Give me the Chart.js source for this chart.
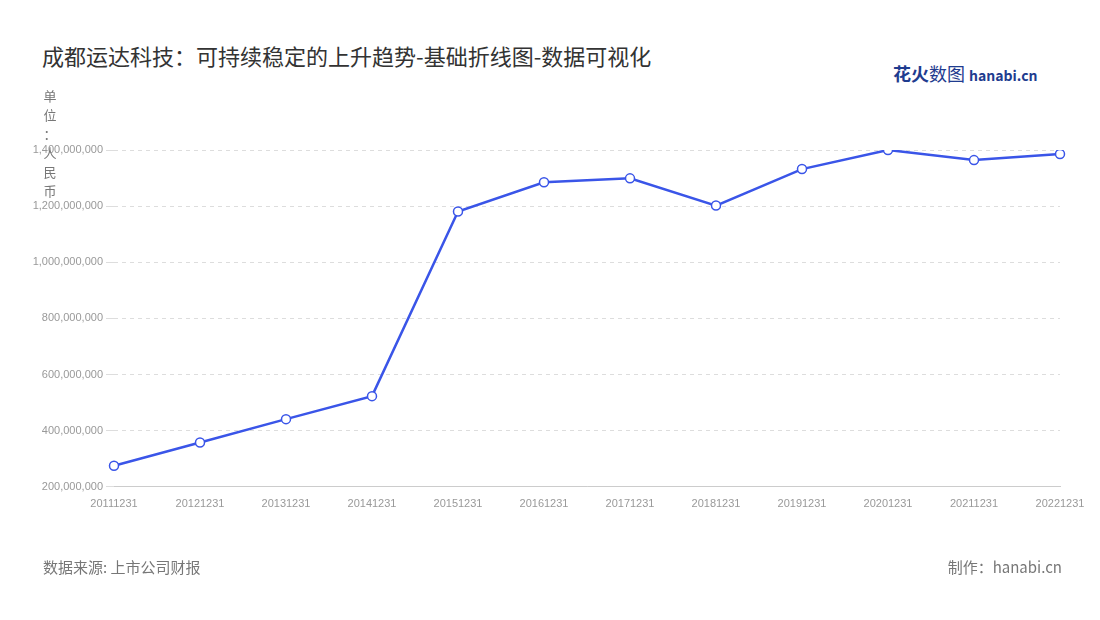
<!DOCTYPE html>
<html><head><meta charset="utf-8">
<script src="https://cdn.jsdelivr.net/npm/chart.js@4"></script>
<style>
body{margin:0;width:1100px;height:620px;background:#fff;font-family:"Noto Sans CJK SC","Noto Sans",sans-serif;position:relative;overflow:hidden}
#t{position:absolute;left:42px;top:39px;font-size:22px;color:#333}
#u{position:absolute;left:43px;top:86px;font-size:13px;color:#777;line-height:19px;width:14px;text-align:center;z-index:2}
#src{position:absolute;left:43px;top:556px;font-size:15px;color:#777}
#mk{position:absolute;right:38px;top:556px;font-size:15px;color:#777}
#logo{position:absolute;left:893px;top:60px;font-size:18px;font-weight:bold;color:#1f3c8f}
#logo span{font-size:14px;color:#1f3c8f}
#c{position:absolute;left:0;top:0}
</style></head><body>
<div id="t">成都运达科技：可持续稳定的上升趋势-基础折线图-数据可视化</div>
<div id="logo">花火<span style="font-weight:normal;font-size:18px">数图</span> <span>hanabi.cn</span></div>
<div id="u">单<br>位<br>：<br>人<br>民<br>币</div>
<canvas id="c" width="1100" height="620"></canvas>
<div id="src">数据来源: 上市公司财报</div>
<div id="mk">制作：hanabi.cn</div>
<script>
const categories=["20111231","20121231","20131231","20141231","20151231","20161231","20171231","20181231","20191231","20201231","20211231","20221231"];
const revenue=[275000000,358000000,441000000,523000000,1181000000,1285000000,1299000000,1202000000,1332000000,1400000000,1364000000,1386000000];
new Chart(document.getElementById('c'),{type:'line',
data:{labels:categories,datasets:[{data:revenue,borderColor:'#3a55e8',borderWidth:2.5,backgroundColor:'#fff',pointRadius:4.5,pointBorderWidth:1.5,pointBorderColor:'#3a55e8',pointBackgroundColor:'#fff',tension:0}]},
options:{responsive:false,animation:false,plugins:{legend:{display:false},tooltip:{enabled:false}},
layout:{padding:{top:150,right:40,bottom:106,left:0}},
scales:{x:{offset:false,grid:{display:false},border:{color:'#ccc'},ticks:{color:'#999',font:{size:11},maxRotation:0,autoSkip:false}},
y:{min:200000000,max:1400000000,afterFit:s=>{s.width=114},ticks:{stepSize:200000000,color:'#999',font:{size:11},callback:v=>v.toLocaleString('en-US')},grid:{color:'#ddd'},border:{display:false,dash:[4,4]}}}}});
</script></body></html>
